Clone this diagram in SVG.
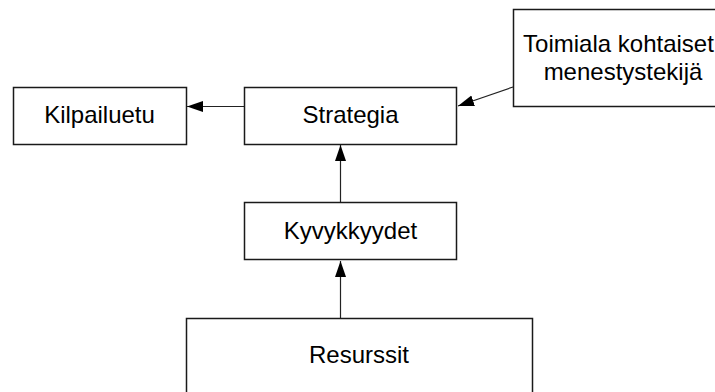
<svg xmlns="http://www.w3.org/2000/svg" width="715" height="392" viewBox="0 0 715 392">
<style>
.box{fill:#fff;stroke:#1a1a1a;stroke-width:1.5}
.lbl{font-family:"Liberation Sans",Arial,sans-serif;font-size:24px;fill:#000;text-anchor:middle}
.edge{stroke:#222;stroke-width:1.2;fill:none;marker-end:url(#ah)}
</style>
<defs>
<marker id="ah" markerUnits="userSpaceOnUse" markerWidth="18" markerHeight="14" refX="16" refY="6" orient="auto">
<path d="M0,0.5 L16,6 L0,11.5 Z" fill="#000"/>
</marker>
</defs>
<rect width="715" height="392" fill="#fff"/>
<g id="connectors">
<line class="edge" x1="244" y1="106.5" x2="187" y2="106.5"/>
<line class="edge" x1="513" y1="87" x2="458" y2="106"/>
<line class="edge" x1="340.5" y1="202" x2="340.5" y2="145"/>
<line class="edge" x1="340.5" y1="318" x2="340.5" y2="261"/>
</g>
<g id="kilpailuetu">
<rect class="box" x="13.5" y="87.5" width="173" height="57"/>
<text class="lbl" x="99.5" y="123">Kilpailuetu</text>
</g>
<g id="strategia">
<rect class="box" x="244.5" y="87.5" width="212" height="57"/>
<text class="lbl" x="350.5" y="123">Strategia</text>
</g>
<g id="toimiala">
<rect class="box" x="513.5" y="9.5" width="216" height="97"/>
<text class="lbl" x="618.5" y="52">Toimiala kohtaiset</text>
<text class="lbl" x="623" y="80">menestystekijä</text>
</g>
<g id="kyvykkyydet">
<rect class="box" x="244.5" y="202.5" width="212" height="57"/>
<text class="lbl" x="350.5" y="239">Kyvykkyydet</text>
</g>
<g id="resurssit">
<rect class="box" x="186.5" y="318.5" width="346" height="90"/>
<text class="lbl" x="359" y="363">Resurssit</text>
</g>
</svg>
